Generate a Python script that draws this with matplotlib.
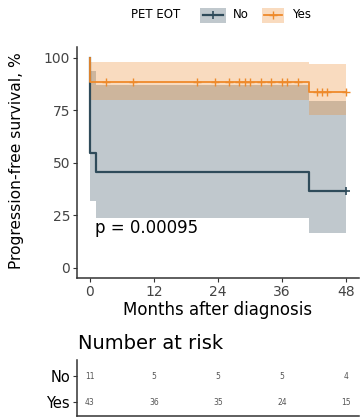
import matplotlib
matplotlib.use("Agg")
import matplotlib.pyplot as plt
from matplotlib.patches import Rectangle
from matplotlib.lines import Line2D

### values
months_no = [0, 0.1, 1.1, 41.0, 48.0]
surv_no = [100, 54.5, 45.5, 36.4, 36.4]
lower_no = [100, 31.8, 23.8, 16.6, 16.6]
upper_no = [100, 93.5, 86.8, 79.5, 79.5]
censor_no = [48.0]

months_yes = [0, 0.1, 41.0, 48.0]
surv_yes = [100, 88.4, 83.5, 83.5]
lower_yes = [100, 79.6, 72.5, 72.5]
upper_yes = [100, 98.0, 97.0, 97.0]
censor_yes = [3, 8, 20, 23.5, 26, 28, 29, 30, 32, 34, 36, 37, 39,
              42.5, 43.5, 44.5, 48]

groups = ["No", "Yes"]
risk_times = [0, 12, 24, 36, 48]
risk_no = [11, 5, 5, 5, 4]
risk_yes = [43, 36, 35, 24, 15]
p_text = "p = 0.00095"

col_no = "#2f4b5a"
col_yes = "#ee8a2b"
axcol = "#333333"

W, H = 362, 419
fig = plt.figure(figsize=(W / 100, H / 100), dpi=100)

def fx(px):
    return px / W

def fy(py):
    return 1 - py / H

# main survival plot
ax = fig.add_axes([fx(77), fy(278), 282 / W, 231 / H])
ax.fill_between(months_no, lower_no, upper_no, step="post", color=col_no, alpha=0.3, lw=0)
ax.fill_between(months_yes, lower_yes, upper_yes, step="post", color=col_yes, alpha=0.3, lw=0)
ax.step(months_no, surv_no, where="post", color=col_no, lw=1.6)
ax.step(months_yes, surv_yes, where="post", color=col_yes, lw=1.3)


def surv_at(t, times, surv):
    val = surv[0]
    for tt, ss in zip(times, surv):
        if tt <= t:
            val = ss
    return val

ax.plot(censor_no, [surv_at(t, months_no, surv_no) for t in censor_no],
        ls="none", marker="+", ms=6, mew=1.2, color=col_no)
ax.plot(censor_yes, [surv_at(t, months_yes, surv_yes) for t in censor_yes],
        ls="none", marker="+", ms=6, mew=1.0, color=col_yes)

ax.text(1.0, 19, p_text, fontsize=12, va="center", ha="left", color="black")

ax.set_xlim(-2.4, 50.4)
ax.set_ylim(-5, 105)
ax.set_xticks(risk_times)
ax.set_yticks([0, 25, 50, 75, 100])
for s in ["top", "right"]:
    ax.spines[s].set_visible(False)
for s in ["left", "bottom"]:
    ax.spines[s].set_color(axcol)
    ax.spines[s].set_linewidth(1.1)
ax.tick_params(colors=axcol, labelcolor="#444444", labelsize=10, length=3, width=0.8, pad=2)
ax.set_xlabel("Months after diagnosis", fontsize=12, color="black")
ax.xaxis.set_label_coords(0.5, -0.100)
ax.set_ylabel("Progression-free survival, %", fontsize=11.2, color="black")
ax.yaxis.set_label_coords(-0.188, 0.506)

# legend on top
fig.text(fx(131), fy(15), "PET EOT", fontsize=8.5, va="center", ha="left")
fig.add_artist(Rectangle((fx(200), fy(23)), 26 / W, 15 / H, transform=fig.transFigure,
                         color=col_no, alpha=0.3, lw=0))
fig.add_artist(Line2D([fx(203), fx(223)], [fy(15.5), fy(15.5)], transform=fig.transFigure,
                      color=col_no, lw=1.6, marker="+", markevery=[0], ms=0))
fig.add_artist(Line2D([fx(213)], [fy(15.5)], transform=fig.transFigure,
                      color=col_no, marker="+", ms=6, mew=1.2, ls="none"))
fig.text(fx(233), fy(15), "No", fontsize=8.5, va="center", ha="left")
fig.add_artist(Rectangle((fx(262), fy(23)), 22 / W, 15 / H, transform=fig.transFigure,
                         color=col_yes, alpha=0.3, lw=0))
fig.add_artist(Line2D([fx(264), fx(282)], [fy(15.5), fy(15.5)], transform=fig.transFigure,
                      color=col_yes, lw=1.3))
fig.add_artist(Line2D([fx(273)], [fy(15.5)], transform=fig.transFigure,
                      color=col_yes, marker="+", ms=6, mew=1.0, ls="none"))
fig.text(fx(292), fy(15), "Yes", fontsize=8.5, va="center", ha="left")

# number at risk table
fig.text(fx(78), fy(343), "Number at risk", fontsize=14, va="center", ha="left")
rax = fig.add_axes([fx(77), fy(416), 282 / W, 56 / H])
for i, t in enumerate(risk_times):
    rax.text(t, 1, str(risk_no[i]), fontsize=5.5, ha="center", va="center", color="#555555")
    rax.text(t, 0, str(risk_yes[i]), fontsize=5.5, ha="center", va="center", color="#555555")
rax.set_xlim(-2.4, 50.4)
rax.set_ylim(-0.54, 1.62)
rax.set_yticks([1, 0])
rax.set_yticklabels(groups)
rax.set_xticks([])
for s in ["top", "right"]:
    rax.spines[s].set_visible(False)
for s in ["left", "bottom"]:
    rax.spines[s].set_color(axcol)
    rax.spines[s].set_linewidth(1.1)
rax.tick_params(axis="y", colors=axcol, labelcolor="black", labelsize=10.5, length=3, width=0.8, pad=2)

fig.savefig("out.png", dpi=100)
